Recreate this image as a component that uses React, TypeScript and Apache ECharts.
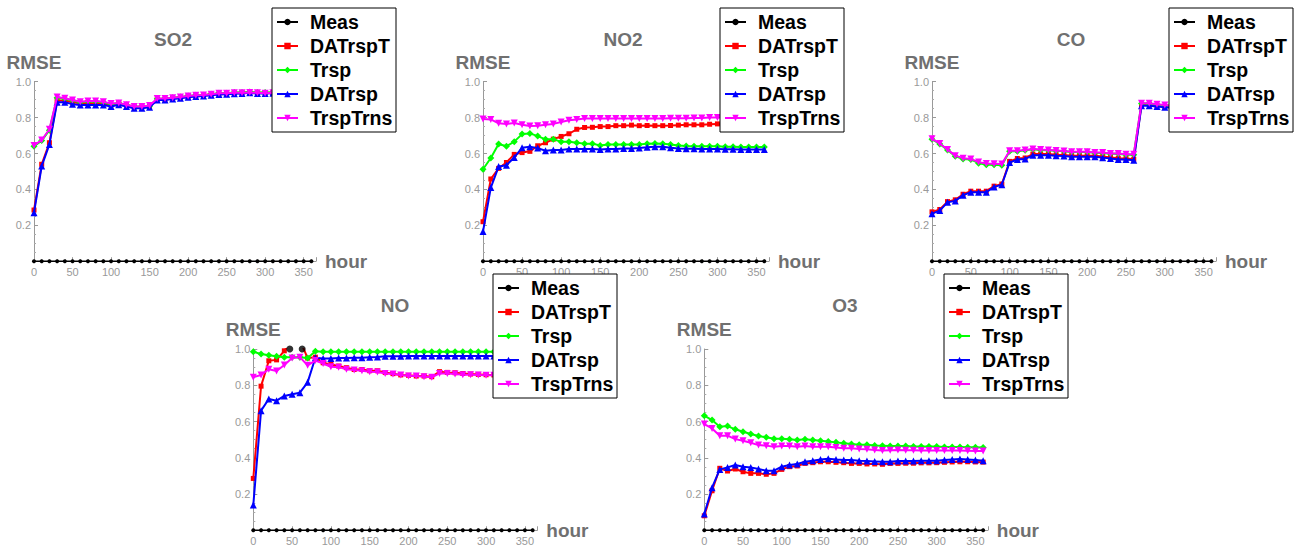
import React, { useEffect, useRef } from "react";
import * as echarts from "echarts";

const HOURS = [0, 10, 20, 30, 40, 50, 60, 70, 80, 90, 100, 110, 120, 130, 140, 150, 160, 170, 180, 190, 200, 210, 220, 230, 240, 250, 260, 270, 280, 290, 300, 310, 320, 330, 340, 350, 360];
const MEAS = [0, 0, 0, 0, 0, 0, 0, 0, 0, 0, 0, 0, 0, 0, 0, 0, 0, 0, 0, 0, 0, 0, 0, 0, 0, 0, 0, 0, 0, 0, 0, 0, 0, 0, 0, 0, 0];

const X_TICKS = [0, 50, 100, 150, 200, 250, 300, 350];
const Y_TICKS = [0.2, 0.4, 0.6, 0.8, 1.0];

const NAMES = ["Meas", "DATrspTrns", "Trsp", "DATrsp", "TrspTrns"];
const PANEL_TITLES = ["SO2", "NO2", "CO", "NO", "O3"];

// SO2
const SO2_DATrspTrns = [0.285, 0.54, 0.66, 0.895, 0.895, 0.885, 0.88, 0.88, 0.88, 0.88, 0.87, 0.88, 0.87, 0.86, 0.86, 0.862, 0.902, 0.902, 0.908, 0.912, 0.918, 0.922, 0.925, 0.93, 0.932, 0.935, 0.938, 0.938, 0.94, 0.938, 0.938, 0.938, 0.94, 0.94, 0.94, 0.94, 0.94];
const SO2_Trsp = [0.64, 0.672, 0.73, 0.91, 0.905, 0.895, 0.885, 0.89, 0.89, 0.885, 0.875, 0.88, 0.87, 0.86, 0.86, 0.865, 0.905, 0.905, 0.91, 0.915, 0.92, 0.925, 0.925, 0.93, 0.935, 0.935, 0.94, 0.94, 0.942, 0.94, 0.94, 0.94, 0.94, 0.94, 0.94, 0.94, 0.94];
const SO2_DATrsp = [0.27, 0.53, 0.65, 0.885, 0.885, 0.875, 0.87, 0.87, 0.87, 0.87, 0.862, 0.872, 0.862, 0.852, 0.852, 0.858, 0.898, 0.898, 0.903, 0.908, 0.913, 0.918, 0.92, 0.925, 0.928, 0.93, 0.933, 0.934, 0.938, 0.934, 0.934, 0.935, 0.935, 0.935, 0.935, 0.935, 0.935];
const SO2_TrspTrns = [0.645, 0.675, 0.735, 0.915, 0.908, 0.898, 0.888, 0.892, 0.892, 0.888, 0.878, 0.882, 0.872, 0.862, 0.862, 0.868, 0.906, 0.906, 0.91, 0.915, 0.92, 0.925, 0.926, 0.93, 0.935, 0.936, 0.938, 0.938, 0.94, 0.938, 0.936, 0.938, 0.938, 0.938, 0.938, 0.938, 0.938];

// NO2
const NO2_DATrspTrns = [0.22, 0.458, 0.517, 0.55, 0.595, 0.605, 0.612, 0.643, 0.66, 0.68, 0.695, 0.71, 0.735, 0.745, 0.746, 0.75, 0.75, 0.755, 0.755, 0.758, 0.755, 0.756, 0.755, 0.755, 0.756, 0.758, 0.76, 0.76, 0.76, 0.763, 0.765, 0.765, 0.765, 0.766, 0.766, 0.766, 0.766];
const NO2_Trsp = [0.512, 0.575, 0.653, 0.64, 0.666, 0.708, 0.712, 0.697, 0.679, 0.68, 0.665, 0.665, 0.66, 0.655, 0.655, 0.645, 0.65, 0.65, 0.65, 0.65, 0.65, 0.655, 0.656, 0.655, 0.65, 0.645, 0.642, 0.64, 0.64, 0.64, 0.64, 0.638, 0.638, 0.636, 0.636, 0.636, 0.636];
const NO2_DATrsp = [0.165, 0.41, 0.527, 0.535, 0.578, 0.632, 0.638, 0.63, 0.615, 0.62, 0.62, 0.625, 0.625, 0.625, 0.625, 0.622, 0.625, 0.625, 0.628, 0.628, 0.63, 0.635, 0.638, 0.638, 0.632, 0.628, 0.627, 0.627, 0.625, 0.625, 0.625, 0.624, 0.623, 0.622, 0.622, 0.622, 0.622];
const NO2_TrspTrns = [0.792, 0.79, 0.768, 0.765, 0.77, 0.76, 0.753, 0.755, 0.76, 0.765, 0.775, 0.785, 0.79, 0.795, 0.795, 0.795, 0.795, 0.795, 0.795, 0.795, 0.795, 0.795, 0.795, 0.795, 0.796, 0.797, 0.797, 0.798, 0.798, 0.8, 0.8, 0.8, 0.8, 0.8, 0.8, 0.8, 0.8];

// CO
const CO_DATrspTrns = [0.275, 0.288, 0.332, 0.342, 0.373, 0.39, 0.39, 0.39, 0.418, 0.43, 0.556, 0.572, 0.575, 0.597, 0.597, 0.597, 0.593, 0.592, 0.588, 0.588, 0.588, 0.587, 0.583, 0.578, 0.573, 0.572, 0.568, 0.872, 0.872, 0.866, 0.862, 0.86, 0.858, 0.858, 0.856, 0.856, 0.856];
const CO_Trsp = [0.68, 0.653, 0.62, 0.585, 0.57, 0.567, 0.546, 0.538, 0.538, 0.535, 0.612, 0.613, 0.618, 0.623, 0.62, 0.618, 0.615, 0.612, 0.608, 0.608, 0.608, 0.604, 0.603, 0.598, 0.598, 0.593, 0.593, 0.878, 0.878, 0.872, 0.868, 0.865, 0.862, 0.862, 0.86, 0.86, 0.86];
const CO_DATrsp = [0.265, 0.282, 0.328, 0.336, 0.368, 0.384, 0.384, 0.384, 0.414, 0.426, 0.55, 0.566, 0.57, 0.59, 0.59, 0.59, 0.587, 0.586, 0.582, 0.582, 0.582, 0.582, 0.577, 0.572, 0.567, 0.567, 0.563, 0.866, 0.866, 0.862, 0.857, 0.855, 0.853, 0.853, 0.852, 0.852, 0.852];
const CO_TrspTrns = [0.682, 0.656, 0.622, 0.588, 0.574, 0.57, 0.552, 0.544, 0.543, 0.541, 0.615, 0.616, 0.62, 0.625, 0.622, 0.62, 0.617, 0.614, 0.61, 0.61, 0.61, 0.606, 0.605, 0.6, 0.6, 0.596, 0.596, 0.88, 0.88, 0.875, 0.87, 0.866, 0.864, 0.863, 0.862, 0.862, 0.862];

// NO
const NO_DATrspTrns = [0.286, 0.795, 0.935, 0.94, 0.99, 1.05, 1.05, 0.95, 0.955, 0.924, 0.915, 0.906, 0.897, 0.887, 0.887, 0.88, 0.88, 0.87, 0.864, 0.857, 0.855, 0.851, 0.851, 0.847, 0.875, 0.871, 0.869, 0.865, 0.862, 0.86, 0.858, 0.857, 0.857, 0.856, 0.856, 0.856, 0.856];
const NO_Trsp = [0.985, 0.972, 0.965, 0.96, 0.955, 0.955, 0.955, 0.95, 0.987, 0.985, 0.985, 0.985, 0.985, 0.985, 0.985, 0.985, 0.985, 0.985, 0.985, 0.985, 0.985, 0.985, 0.985, 0.985, 0.985, 0.985, 0.985, 0.985, 0.985, 0.985, 0.985, 0.985, 0.985, 0.985, 0.985, 0.985, 0.985];
const NO_DATrsp = [0.139, 0.66, 0.724, 0.715, 0.741, 0.75, 0.759, 0.816, 0.952, 0.948, 0.948, 0.95, 0.95, 0.952, 0.952, 0.954, 0.956, 0.96, 0.96, 0.96, 0.962, 0.962, 0.962, 0.962, 0.962, 0.962, 0.962, 0.962, 0.962, 0.962, 0.962, 0.962, 0.962, 0.962, 0.962, 0.962, 0.962];
const NO_TrspTrns = [0.844, 0.857, 0.888, 0.879, 0.912, 0.95, 0.955, 0.91, 0.936, 0.92, 0.902, 0.9, 0.888, 0.884, 0.88, 0.875, 0.873, 0.865, 0.862, 0.857, 0.851, 0.851, 0.847, 0.844, 0.865, 0.865, 0.862, 0.858, 0.858, 0.857, 0.855, 0.855, 0.855, 0.855, 0.855, 0.855, 0.855];
const NO_MEAS_EXTRA_HOURS = [47, 63];
const NO_MEAS_EXTRA_VALUES = [1.0, 1.0];

// O3
const O3_DATrspTrns = [0.08, 0.218, 0.342, 0.327, 0.338, 0.323, 0.314, 0.314, 0.309, 0.314, 0.336, 0.351, 0.355, 0.369, 0.373, 0.378, 0.378, 0.375, 0.373, 0.369, 0.369, 0.366, 0.366, 0.364, 0.369, 0.369, 0.37, 0.37, 0.372, 0.372, 0.373, 0.375, 0.377, 0.378, 0.378, 0.377, 0.376];
const O3_Trsp = [0.632, 0.608, 0.571, 0.575, 0.557, 0.544, 0.531, 0.52, 0.513, 0.505, 0.505, 0.502, 0.498, 0.502, 0.498, 0.494, 0.49, 0.485, 0.48, 0.476, 0.472, 0.472, 0.468, 0.467, 0.465, 0.465, 0.465, 0.462, 0.462, 0.462, 0.462, 0.46, 0.46, 0.46, 0.458, 0.458, 0.457];
const O3_DATrsp = [0.09, 0.235, 0.336, 0.347, 0.36, 0.351, 0.347, 0.338, 0.329, 0.329, 0.351, 0.36, 0.366, 0.378, 0.384, 0.391, 0.395, 0.391, 0.388, 0.388, 0.384, 0.382, 0.38, 0.378, 0.378, 0.382, 0.382, 0.382, 0.384, 0.384, 0.384, 0.388, 0.391, 0.393, 0.391, 0.388, 0.384];
const O3_TrspTrns = [0.586, 0.562, 0.522, 0.522, 0.503, 0.494, 0.483, 0.47, 0.467, 0.461, 0.465, 0.465, 0.461, 0.465, 0.461, 0.461, 0.461, 0.457, 0.452, 0.452, 0.448, 0.447, 0.443, 0.44, 0.442, 0.443, 0.442, 0.441, 0.44, 0.44, 0.44, 0.44, 0.44, 0.44, 0.439, 0.438, 0.437];

const PANEL_DATA = [
  [MEAS, SO2_DATrspTrns, SO2_Trsp, SO2_DATrsp, SO2_TrspTrns],
  [MEAS, NO2_DATrspTrns, NO2_Trsp, NO2_DATrsp, NO2_TrspTrns],
  [MEAS, CO_DATrspTrns, CO_Trsp, CO_DATrsp, CO_TrspTrns],
  [MEAS, NO_DATrspTrns, NO_Trsp, NO_DATrsp, NO_TrspTrns],
  [MEAS, O3_DATrspTrns, O3_Trsp, O3_DATrsp, O3_TrspTrns],
];

// layout (pixels)
const LAYOUT = [
  { left: 34, top: 81.7, width: 282, height: 179.5, legendLeft: 272, legendTop: 8, titleX: 173, titleY: 39 },
  { left: 483, top: 81.7, width: 286, height: 179.5, legendLeft: 720, legendTop: 8, titleX: 623, titleY: 39 },
  { left: 932, top: 81.7, width: 284, height: 179.5, legendLeft: 1169, legendTop: 8, titleX: 1071, titleY: 39 },
  { left: 253.3, top: 349, width: 284, height: 181.3, legendLeft: 493, legendTop: 274, titleX: 395, titleY: 305 },
  { left: 704.3, top: 349, width: 283.5, height: 181.3, legendLeft: 944, legendTop: 274, titleX: 845, titleY: 305 },
];

const COLORS = ["#000000", "#ff0000", "#00ff00", "#0000ff", "#ff00ff"];
const SYMBOLS = ["circle", "rect", "diamond", "triangle", "path://M0,0L10,0L5,9Z"];
const SYMBOL_SIZES = [4, 5, 7, 7, 7];
const FONT = "'Liberation Sans', Arial, Helvetica, sans-serif";
const GRAY_TEXT = "#707070";

export default function App() {
  const ref = useRef<HTMLDivElement>(null);

  useEffect(() => {
    if (!ref.current) return;
    const chart = echarts.init(ref.current, undefined, { renderer: "svg" });

    const grids: any[] = [];
    const xAxes: any[] = [];
    const yAxes: any[] = [];
    const series: any[] = [];
    const legends: any[] = [];
    const graphics: any[] = [];

    LAYOUT.forEach((L, p) => {
      grids.push({
        left: L.left,
        top: L.top,
        width: L.width,
        height: L.height,
        containLabel: false,
        outerBoundsMode: "none",
      });
      xAxes.push({
        type: "value",
        gridIndex: p,
        min: 0,
        max: 366,
        interval: 50,
        name: "hour",
        nameLocation: "end",
        nameGap: 9,
        nameMoveOverlap: false,
        nameTextStyle: { fontFamily: FONT, fontSize: 19, fontWeight: "bold", color: GRAY_TEXT, verticalAlign: "middle" },
        axisLine: { show: true, lineStyle: { color: "#999", width: 1 } },
        axisTick: { show: true, inside: true, length: 4, lineStyle: { color: "#999" } },
        minorTick: { show: true, splitNumber: 5, length: 2, lineStyle: { color: "#aaa" } },
        splitLine: { show: false },
        axisLabel: {
          show: true,
          margin: 5,
          fontFamily: FONT,
          fontSize: 11,
          color: "#999999",
          showMaxLabel: false,
          formatter: (v: number) => (X_TICKS.indexOf(v) >= 0 ? String(v) : ""),
        },
      });
      yAxes.push({
        type: "value",
        gridIndex: p,
        min: 0,
        max: 1,
        interval: 0.2,
        name: "RMSE",
        nameLocation: "end",
        nameGap: 10,
        nameMoveOverlap: false,
        nameTextStyle: { fontFamily: FONT, fontSize: 19, fontWeight: "bold", color: GRAY_TEXT, align: "center" },
        axisLine: { show: true, lineStyle: { color: "#999", width: 1 } },
        axisTick: { show: true, inside: true, length: 4, lineStyle: { color: "#999" } },
        minorTick: { show: true, splitNumber: 4, length: 2, lineStyle: { color: "#aaa" } },
        splitLine: { show: false },
        axisLabel: {
          show: true,
          margin: 3,
          fontFamily: FONT,
          fontSize: 11,
          color: "#999999",
          formatter: (v: number) => {
            const hit = Y_TICKS.find((t) => Math.abs(t - v) < 1e-6);
            return hit !== undefined ? hit.toFixed(1) : "";
          },
        },
      });

      PANEL_DATA[p].forEach((vals, s) => {
        series.push({
          type: "line",
          name: NAMES[s],
          xAxisIndex: p,
          yAxisIndex: p,
          data: HOURS.map((h, i) => [h, vals[i]]),
          symbol: SYMBOLS[s],
          symbolSize: SYMBOL_SIZES[s],
          showSymbol: true,
          showAllSymbol: true,
          clip: true,
          lineStyle: { color: COLORS[s], width: s === 0 ? 1.5 : 2 },
          itemStyle: { color: COLORS[s] },
          emphasis: { disabled: true },
          z: 2 + s,
        });
      });

      if (p === 3) {
        series.push({
          type: "scatter",
          name: "Meas",
          xAxisIndex: p,
          yAxisIndex: p,
          data: NO_MEAS_EXTRA_HOURS.map((h, i) => [h, NO_MEAS_EXTRA_VALUES[i]]),
          symbol: "circle",
          symbolSize: 7,
          clip: false,
          itemStyle: { color: "#000" },
          z: 8,
        });
      }

      legends.push({
        orient: "vertical",
        left: L.legendLeft,
        top: L.legendTop,
        data: NAMES,
        backgroundColor: "#ffffff",
        borderColor: "#000000",
        borderWidth: 1,
        borderRadius: 0,
        padding: [4, 1, 4, 4],
        itemGap: 4,
        itemWidth: 21,
        itemHeight: 8,
        selectedMode: false,
        textStyle: {
          fontFamily: FONT,
          fontSize: 19.5,
          fontWeight: "bold",
          color: "#000",
          lineHeight: 20,
          width: 85,
          overflow: "truncate",
          ellipsis: "",
          padding: [0, 0, 0, 7],
        },
        z: 20,
      });

      graphics.push({
        type: "text",
        x: L.titleX,
        y: L.titleY,
        style: {
          text: PANEL_TITLES[p],
          fontFamily: FONT,
          fontSize: 19,
          fontWeight: "bold",
          fill: GRAY_TEXT,
          textAlign: "center",
          textVerticalAlign: "middle",
        },
        z: 1,
      });
    });

    chart.setOption({
      animation: false,
      backgroundColor: "#ffffff",
      textStyle: { fontFamily: FONT },
      grid: grids,
      xAxis: xAxes,
      yAxis: yAxes,
      legend: legends,
      series,
      graphic: graphics,
    });

    return () => chart.dispose();
  }, []);

  return (
    <div
      ref={ref}
      style={{ position: "fixed", left: 0, top: 0, width: 1304, height: 545, background: "#fff" }}
    />
  );
}
